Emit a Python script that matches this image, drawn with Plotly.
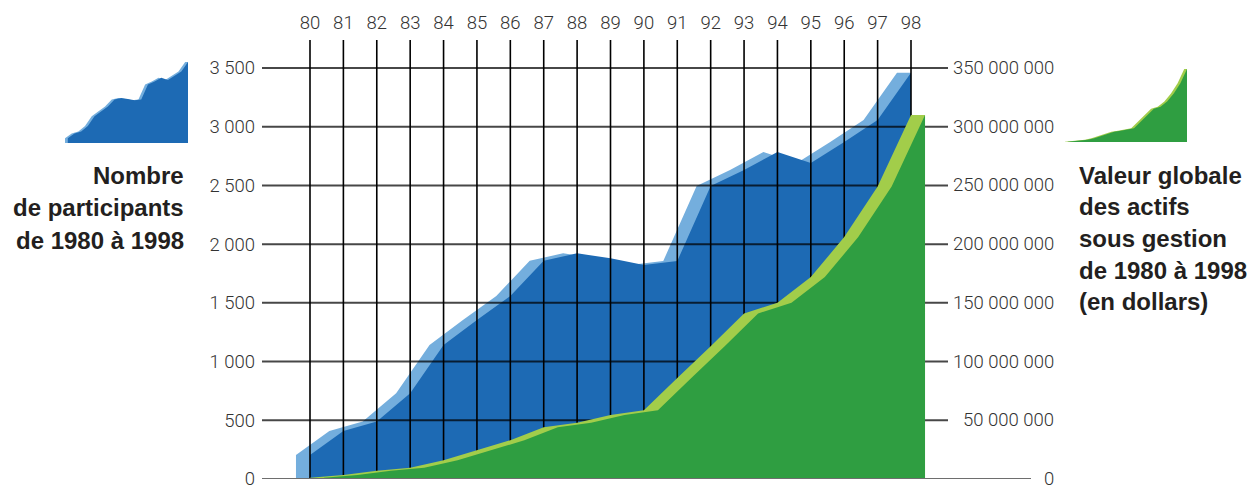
import plotly.graph_objects as go

# ---------------- data ----------------
years = list(range(80, 99))
year_labels = [str(y) for y in years]
participants = [204, 409, 490, 730, 1141, 1354, 1558, 1859, 1922, 1879, 1822,
                1856, 2495, 2631, 2785, 2691, 2870, 3057, 3460]
assets_musd = [1, 3.4, 7, 9.6, 16, 24.7, 33, 44, 48, 54.5, 58.5,
               86, 113, 141, 150, 172, 206, 249, 310]
left_ticks = [0, 500, 1000, 1500, 2000, 2500, 3000, 3500]
left_tick_text = ["0", "500", "1 000", "1 500", "2 000", "2 500", "3 000", "3 500"]
right_ticks = [0, 50e6, 100e6, 150e6, 200e6, 250e6, 300e6, 350e6]
right_tick_text = ["0", "50 000 000", "100 000 000", "150 000 000", "200 000 000",
                   "250 000 000", "300 000 000", "350 000 000"]
left_title = ["Nombre", "de participants", "de 1980 à 1998"]
right_title = ["Valeur globale", "des actifs", "sous gestion", "de 1980 à 1998", "(en dollars)"]

assets = [v * 1e6 for v in assets_musd]

# ---------------- style ----------------
W, H = 1254, 485
DARK_BLUE = "#1d6ab4"
LIGHT_BLUE = "#74aedd"
DARK_GREEN = "#2f9e41"
LIGHT_GREEN = "#a2cd4a"
SHIFT = 0.42
TICK_FONT = dict(family="Roboto, Liberation Sans, Arial, sans-serif",
                 size=18.5, color="#333333", weight=300)
TITLE_FONT = dict(family="Liberation Sans, Arial, sans-serif", size=24, color="#231f20")

PLOT_L, PLOT_R, PLOT_T, PLOT_B = 262, 948, 40, 479
X0 = 80 - (310 - PLOT_L) / ((911 - 310) / 18)
X1 = 98 + (PLOT_R - 911) / ((911 - 310) / 18)
Y_TOP = 3500 * (PLOT_B - PLOT_T) / (PLOT_B - 68)
Y2_TOP = Y_TOP * 1e5


def px_x(p):
    return p / W


def px_y(p):
    return (PLOT_B - p) / (PLOT_B - PLOT_T)


fig = go.Figure()

# --- participants (main y) ---
fig.add_trace(go.Scatter(
    x=[y - SHIFT for y in years] + [years[-1]], y=participants + [participants[-1]],
    mode="lines", line=dict(width=0), fill="tozeroy", fillcolor=LIGHT_BLUE,
    hoverinfo="skip", showlegend=False, xaxis="x", yaxis="y"))
fig.add_trace(go.Scatter(
    x=years, y=participants, mode="lines", line=dict(width=0), fill="tozeroy",
    fillcolor=DARK_BLUE, showlegend=False, xaxis="x", yaxis="y"))

# --- grid drawn above the blue, below the green (overlay axis y2) ---
hx, hy = [], []
for v in right_ticks[1:]:
    hx += [X0, X1, None]
    hy += [v, v, None]
fig.add_trace(go.Scatter(x=hx, y=hy, mode="lines",
                         line=dict(color="rgba(0,0,0,0.72)", width=2),
                         hoverinfo="skip", showlegend=False, xaxis="x", yaxis="y2"))
vx, vy = [], []
for yr in years:
    vx += [yr, yr, None]
    vy += [0, Y2_TOP, None]
fig.add_trace(go.Scatter(x=vx, y=vy, mode="lines", line=dict(color="#000000", width=1.6),
                         hoverinfo="skip", showlegend=False, xaxis="x", yaxis="y2"))

# --- assets (y2) ---
fig.add_trace(go.Scatter(
    x=years + [years[-1] + SHIFT], y=assets + [assets[-1]], mode="lines",
    line=dict(width=0), fill="tozeroy", fillcolor=LIGHT_GREEN,
    hoverinfo="skip", showlegend=False, xaxis="x", yaxis="y2"))
fig.add_trace(go.Scatter(
    x=[y + SHIFT for y in years], y=assets, mode="lines", line=dict(width=0),
    fill="tozeroy", fillcolor=DARK_GREEN, showlegend=False, xaxis="x", yaxis="y2"))

# --- mini icons ---
fig.add_trace(go.Scatter(
    x=[y - SHIFT for y in years] + [years[-1]], y=participants + [participants[-1]],
    mode="lines", line=dict(width=0), fill="tozeroy", fillcolor=LIGHT_BLUE,
    hoverinfo="skip", showlegend=False, xaxis="x3", yaxis="y3"))
fig.add_trace(go.Scatter(
    x=years, y=participants, mode="lines", line=dict(width=0), fill="tozeroy",
    fillcolor=DARK_BLUE, hoverinfo="skip", showlegend=False, xaxis="x3", yaxis="y3"))
fig.add_trace(go.Scatter(
    x=years + [years[-1] + SHIFT], y=assets + [assets[-1]], mode="lines",
    line=dict(width=0), fill="tozeroy", fillcolor=LIGHT_GREEN,
    hoverinfo="skip", showlegend=False, xaxis="x4", yaxis="y4"))
fig.add_trace(go.Scatter(
    x=[y + SHIFT for y in years], y=assets, mode="lines", line=dict(width=0),
    fill="tozeroy", fillcolor=DARK_GREEN, hoverinfo="skip", showlegend=False,
    xaxis="x4", yaxis="y4"))

hidden = dict(visible=False, fixedrange=True)

annotations = []
for v, t in zip(right_ticks, right_tick_text):
    annotations.append(dict(x=px_x(1056), xref="paper", xanchor="right",
                            y=v, yref="y2", yanchor="middle", text=t,
                            showarrow=False, font=TICK_FONT))
for i, t in enumerate(left_title):
    annotations.append(dict(x=px_x(186), xref="paper", xanchor="right",
                            y=px_y(175 + 32.5 * i), yref="paper", yanchor="middle",
                            text="<b>%s</b>" % t, showarrow=False, font=TITLE_FONT))
for i, t in enumerate(right_title):
    annotations.append(dict(x=px_x(1077), xref="paper", xanchor="left",
                            y=px_y(175 + 31.7 * i), yref="paper", yanchor="middle",
                            text="<b>%s</b>" % t, showarrow=False, font=TITLE_FONT))

fig.update_layout(
    width=W, height=H,
    margin=dict(l=0, r=0, t=PLOT_T, b=H - PLOT_B, autoexpand=False),
    paper_bgcolor="white", plot_bgcolor="rgba(0,0,0,0)",
    showlegend=False,
    xaxis=dict(domain=[px_x(PLOT_L), px_x(PLOT_R)], range=[X0, X1], side="top",
               tickvals=years, ticktext=year_labels, ticks="", showgrid=False,
               zeroline=False, showline=False, tickfont=TICK_FONT,
               ticklabelstandoff=6, fixedrange=True),
    yaxis=dict(domain=[0, 1], range=[0, Y_TOP], tickvals=left_ticks,
               ticktext=left_tick_text, ticks="", showgrid=False, zeroline=False,
               showline=False, tickfont=TICK_FONT, ticklabelstandoff=6,
               ticklabeloverflow="allow", fixedrange=True),
    yaxis2=dict(overlaying="y", side="right", range=[0, Y2_TOP],
                showticklabels=False, ticks="", showgrid=False, zeroline=False,
                showline=False, fixedrange=True),
    xaxis3=dict(domain=[px_x(65), px_x(188)], range=[years[0] - SHIFT, years[-1]],
                anchor="y3", **hidden),
    yaxis3=dict(domain=[px_y(143), px_y(62)], range=[0, participants[-1]],
                anchor="x3", **hidden),
    xaxis4=dict(domain=[px_x(1065), px_x(1187)], range=[years[0], years[-1] + SHIFT],
                anchor="y4", **hidden),
    yaxis4=dict(domain=[px_y(142), px_y(69)], range=[0, assets[-1]],
                anchor="x4", **hidden),
    annotations=annotations,
    shapes=[dict(type="line", xref="paper", yref="y", x0=px_x(PLOT_L), x1=px_x(1031),
                 y0=0, y1=0, line=dict(color="#6e6e6e", width=2), layer="above")],
)

fig.write_html("out.html", config={"displayModeBar": False},
               post_script="document.body.style.margin='0';document.body.style.overflow='hidden';")
